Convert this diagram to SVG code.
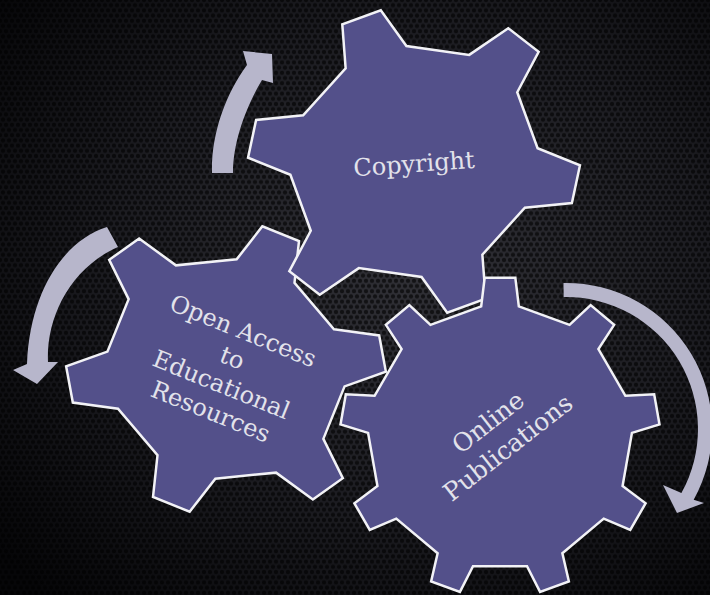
<svg xmlns="http://www.w3.org/2000/svg" width="710" height="595" viewBox="0 0 710 595">
<defs>
<radialGradient id="bg" cx="0.58" cy="0.45" r="0.75">
<stop offset="0" stop-color="#313137"/>
<stop offset="0.55" stop-color="#1c1c21"/>
<stop offset="1" stop-color="#060608"/>
</radialGradient>
<pattern id="hex" width="6" height="10.4" patternUnits="userSpaceOnUse">
<g fill="#000" fill-opacity="0.6">
<circle cx="0" cy="0" r="2.1"/>
<circle cx="6" cy="0" r="2.1"/>
<circle cx="3" cy="5.2" r="2.1"/>
<circle cx="0" cy="10.4" r="2.1"/>
<circle cx="6" cy="10.4" r="2.1"/>
</g>
</pattern>
<polygon id="g6" vector-effect="non-scaling-stroke" points="114.95,-30.80 158.81,-19.50 158.81,19.50 114.95,30.80 84.15,84.15 96.29,127.78 62.52,147.28 30.80,114.95 -30.80,114.95 -62.52,147.28 -96.29,127.78 -84.15,84.15 -114.95,30.80 -158.81,19.50 -158.81,-19.50 -114.95,-30.80 -84.15,-84.15 -96.29,-127.78 -62.52,-147.28 -30.80,-114.95 30.80,-114.95 62.52,-147.28 96.29,-127.78 84.15,-84.15"/>
<polygon id="g9" points="130.65,-18.83 159.26,-15.34 159.26,15.34 130.65,18.83 112.19,69.56 131.86,90.63 112.15,114.12 87.98,98.40 41.23,125.40 42.76,154.18 12.55,159.51 4.15,131.94 -49.02,122.56 -66.35,145.59 -92.91,130.26 -81.63,103.73 -116.33,62.38 -144.41,68.88 -154.90,40.06 -129.21,26.99 -129.21,-26.99 -154.90,-40.06 -144.41,-68.88 -116.33,-62.38 -81.63,-103.73 -92.91,-130.26 -66.35,-145.59 -49.02,-122.56 4.15,-131.94 12.55,-159.51 42.76,-154.18 41.23,-125.40 87.98,-98.40 112.15,-114.12 131.86,-90.63 112.19,-69.56"/>
</defs>
<style>
.gear{fill:#53508a;stroke:#f2f2f6;stroke-width:2.5;stroke-linejoin:miter}
.lbl{font-family:"DejaVu Serif","Liberation Serif",serif;font-size:24px;fill:#e2e2ea;text-anchor:middle}
.arrow{fill:#b7b6cb}
</style>
<rect width="710" height="595" fill="url(#bg)"/>
<rect width="710" height="595" fill="url(#hex)"/>
<g id="connectors">
<path class="arrow" d="M212,173 C211,135 225,95 247,65 L243,51 L272,54 L273,83 L262,80 C247,105 233,140 233,173 Z"/>
<path class="arrow" d="M107,227 C65,240 30,290 27,364 L13,370 L37,384 L58,362 L48,362 C46,318 70,268 118,247 Z"/>
<path class="arrow" d="M563.5,283 A146,146 0 0 1 693.7,499.8 L704,503 L677,513 L663,485 L681.4,493 A132,132 0 0 0 563.7,297 Z"/>
</g>
<g id="node-open-access">
<use href="#g6" class="gear" transform="translate(226,369) rotate(22) scale(1.013,0.919) rotate(-30)"/>
<g transform="translate(227,371) rotate(22)">
<text class="lbl"><tspan x="0" y="-35">Open Access</tspan><tspan x="0" y="-6">to</tspan><tspan x="0" y="23">Educational</tspan><tspan x="0" y="52">Resources</tspan></text>
</g>
</g>
<g id="node-copyright">
<use href="#g6" class="gear" transform="translate(414,161.5) rotate(-20) scale(1.05,0.966) rotate(-30)"/>
<text class="lbl" x="414" y="172" transform="rotate(-4 414 165)">Copyright</text>
</g>
<g id="node-online">
<use href="#g9" class="gear" transform="translate(500,437) rotate(-10)"/>
<g transform="translate(498,435) rotate(-38)">
<text class="lbl" style="font-size:25px"><tspan x="0" y="-7.5">Online</tspan><tspan x="0" y="24.5">Publications</tspan></text>
</g>
</g>
</svg>
